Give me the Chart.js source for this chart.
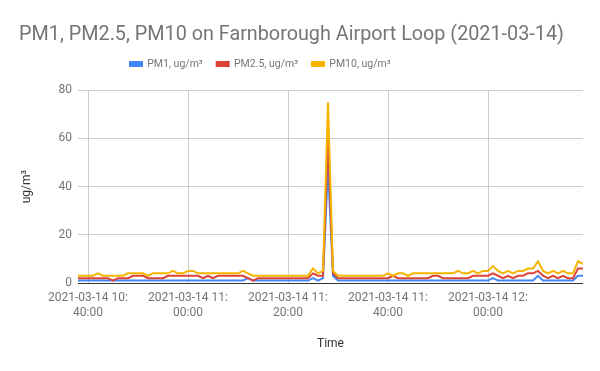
<!DOCTYPE html>
<html>
<head>
<meta charset="utf-8">
<script src="https://cdn.jsdelivr.net/npm/chart.js@4.4.1/dist/chart.umd.min.js"></script>
<style>
html,body{margin:0;padding:0;background:#fff;}
#wrap{width:600px;height:371px;position:relative;}
</style>
</head>
<body>
<div id="wrap"><canvas id="c" width="600" height="371"></canvas></div>
<script>
// ---- data ----
const chartTitle = "PM1, PM2.5, PM10 on Farnborough Airport Loop (2021-03-14)";
const dateLabel = "2021-03-14";
const startMinute = 10 * 60 + 38;   // first sample 10:38, one sample per minute
const seriesNames = ["PM1, ug/m³", "PM2.5, ug/m³", "PM10, ug/m³"];
const pm1 = [
  1,1,1,1,1,1,1,1,1,1,
  1,1,1,1,1,1,1,1,1,1,
  1,1,1,1,1,1,1,1,1,1,
  1,1,1,1,2,1,1,1,1,1,
  1,1,1,1,1,1,1,2,1,2,
  48,3,1,1,1,1,1,1,1,1,
  1,1,1,1,1,1,1,1,1,1,
  1,1,1,1,1,1,1,1,1,1,
  1,1,1,2,1,1,1,1,1,1,
  1,1,3,1,1,1,1,1,1,1,
  3,3
];
const pm25 = [
  2,2,2,2,2,2,2,1,2,2,
  2,3,3,3,2,2,2,2,3,3,
  3,3,3,3,3,2,3,2,3,3,
  3,3,3,3,2,1,2,2,2,2,
  2,2,2,2,2,2,2,4,3,3,
  60,4,2,2,2,2,2,2,2,2,
  2,2,2,3,2,2,2,2,2,2,
  2,3,3,2,2,2,2,2,2,3,
  3,3,3,4,3,2,3,2,3,3,
  4,4,5,3,2,3,2,3,2,2,
  6,6
];
const pm10 = [
  3,3,3,3,4,3,3,3,3,3,
  4,4,4,4,3,4,4,4,4,5,
  4,4,5,5,4,4,4,4,4,4,
  4,4,4,5,4,3,3,3,3,3,
  3,3,3,3,3,3,3,6,4,5,
  75,5,3,3,3,3,3,3,3,3,
  3,3,4,3,4,4,3,4,4,4,
  4,4,4,4,4,4,5,4,4,5,
  4,5,5,7,5,4,5,4,5,5,
  6,6,9,5,4,5,4,5,4,4,
  9,8
];
const xTickMinutes = [640, 660, 680, 700, 720];
const yTicks = [0, 20, 40, 60, 80];
const colors = ["#4285F4", "#DB4437", "#F4B400"];

// ---- build ----
const toPoints = arr => arr.map((v, i) => ({x: startMinute + i, y: v}));
const pad2 = n => String(n).padStart(2, "0");
const FONT = "Roboto";
const LEGEND_START_X = 130;

const legendSpace = {
  id: "legendSpace",
  beforeInit(chart) {
    const lg = chart.legend;
    const origFit = lg.fit;
    lg.fit = function () { origFit.call(this); this.height += 11; };
  },
  beforeDraw(chart) {
    const lg = chart.legend;
    if (!lg || !lg.lineWidths) return;
    const pad = lg.options.labels.padding;
    const curStart = (lg.left + pad + lg.right - lg.lineWidths[0]) / 2;
    const d = LEGEND_START_X - curStart;
    lg.left += d; lg.right += d;
  }
};

new Chart(document.getElementById("c"), {
  type: "line",
  data: {
    datasets: [
      {label: seriesNames[0], data: toPoints(pm1), borderColor: colors[0], backgroundColor: colors[0], order: 3},
      {label: seriesNames[1], data: toPoints(pm25), borderColor: colors[1], backgroundColor: colors[1], order: 2},
      {label: seriesNames[2], data: toPoints(pm10), borderColor: colors[2], backgroundColor: colors[2], order: 1}
    ]
  },
  plugins: [legendSpace],
  options: {
    responsive: false,
    animation: false,
    devicePixelRatio: 1,
    elements: {
      line: {borderWidth: 2, tension: 0},
      point: {radius: 0, hoverRadius: 0}
    },
    layout: {padding: {left: 0, right: 17, top: 0, bottom: 0}},
    plugins: {
      title: {
        display: true,
        text: chartTitle,
        color: "#757575",
        font: {family: FONT, size: 19.8, weight: "normal"},
        padding: {top: 23, bottom: -2}
      },
      legend: {
        display: true,
        labels: {
          color: "#757575",
          font: {family: FONT, size: 10.5},
          boxWidth: 12,
          boxHeight: 4,
          padding: 14,
          sort: (a, b) => a.datasetIndex - b.datasetIndex
        }
      },
      tooltip: {enabled: false}
    },
    scales: {
      x: {
        type: "linear",
        min: startMinute,
        max: startMinute + pm10.length - 1,
        afterBuildTicks: s => { s.ticks = xTickMinutes.map(v => ({value: v})); },
        afterFit: s => { s.height = 88; },
        ticks: {
          autoSkip: false,
          maxRotation: 0,
          padding: 8,
          color: "#757575",
          font: {family: FONT, size: 12},
          callback: v => [dateLabel + " " + Math.floor(v / 60) + ":", pad2(v % 60) + ":00"]
        },
        grid: {color: "#cccccc", drawTicks: false},
        border: {display: false},
        title: {
          display: true, text: "Time", color: "#333333",
          font: {family: FONT, size: 12},
          padding: {top: 0, bottom: 20}
        }
      },
      y: {
        min: 0, max: 80,
        afterBuildTicks: s => { s.ticks = yTicks.map(v => ({value: v})); },
        afterFit: s => { s.width = 78; },
        ticks: {
          padding: 6,
          color: "#757575",
          font: {family: FONT, size: 12}
        },
        grid: {
          drawTicks: false,
          color: c => (c.tick && c.tick.value === 0) ? "#333333" : "#cccccc"
        },
        border: {display: false},
        title: {
          display: true, text: "ug/m³", color: "#333333",
          font: {family: FONT, size: 12},
          padding: {top: 20, bottom: 0}
        }
      }
    }
  }
});
</script>
</body>
</html>
